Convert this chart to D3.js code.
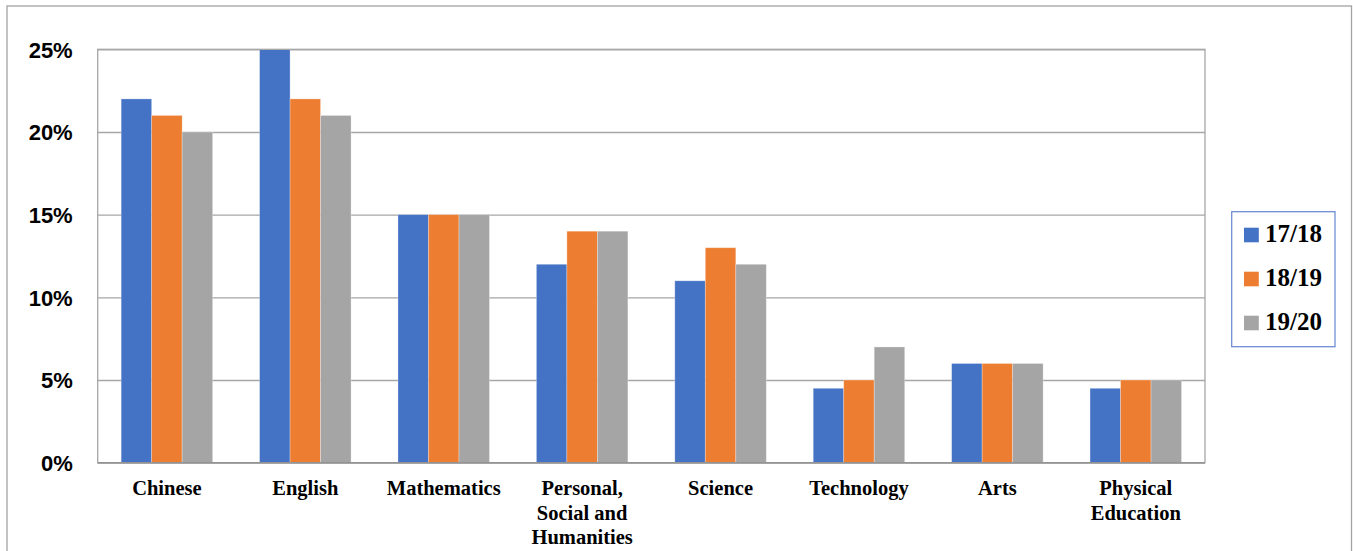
<!DOCTYPE html>
<html>
<head>
<meta charset="utf-8">
<script src="https://cdn.jsdelivr.net/npm/d3@7"></script>
<style>
  html, body { margin: 0; padding: 0; background: #fff; }
  svg { display: block; }
</style>
</head>
<body>
<svg id="chart" width="1353" height="551"></svg>
<script>
// Subjects along the x axis
const categories = ["Chinese", "English", "Mathematics", "Personal, Social and Humanities",
  "Science", "Technology", "Arts", "Physical Education"];
// Wrapped label lines for each subject
const categoryLines = [["Chinese"], ["English"], ["Mathematics"], ["Personal,", "Social and", "Humanities"],
  ["Science"], ["Technology"], ["Arts"], ["Physical", "Education"]];
// School years (series)
const seriesNames = ["17/18", "18/19", "19/20"];
const seriesColors = ["#4472C4", "#ED7D31", "#A5A5A5"];
// Share of lesson time, percent
const values1718 = [22, 25, 15, 12, 11, 4.5, 6, 4.5];
const values1819 = [21, 22, 15, 14, 13, 5, 6, 5];
const values1920 = [20, 21, 15, 14, 12, 7, 6, 5];
const yTicks = [0, 5, 10, 15, 20, 25];

const seriesValues = [values1718, values1819, values1920];

const svg = d3.select("#chart");
const plot = { left: 97.7, right: 1205, top: 49.3, bottom: 462.7 };

// Outer frame
svg.append("rect")
  .attr("x", 7).attr("y", 6).attr("width", 1344.5).attr("height", 560)
  .attr("fill", "none").attr("stroke", "#a3a3a3").attr("stroke-width", 1.3);

const x0 = d3.scaleBand().domain(categories).range([plot.left, plot.right])
  .paddingInner(0.339).paddingOuter(0.1695);
const x1 = d3.scaleBand().domain(seriesNames).range([0, x0.bandwidth()]);
const y = d3.scaleLinear().domain([0, 25]).range([plot.bottom, plot.top]);

// Gridlines
const yAxis = d3.axisLeft(y).tickValues(yTicks).tickSize(-(plot.right - plot.left))
  .tickFormat(d => d + "%").tickPadding(25);
const gy = svg.append("g").attr("transform", `translate(${plot.left},0)`).call(yAxis);
gy.select(".domain").remove();
gy.selectAll(".tick line").attr("stroke", "#a6a6a6").attr("stroke-width", 1.3);
gy.selectAll(".tick text")
  .attr("font-family", "'Liberation Sans', Arial, sans-serif")
  .attr("font-weight", "bold").attr("font-size", 22).attr("fill", "#000")
  .attr("dy", "0.35em");

// Bars
const groups = svg.append("g").selectAll("g")
  .data(categories).join("g")
  .attr("transform", d => `translate(${x0(d)},0)`);
groups.selectAll("rect")
  .data((d, i) => seriesNames.map((s, j) => ({ s, j, v: seriesValues[j][i] })))
  .join("rect")
  .attr("x", d => x1(d.s))
  .attr("width", x1.bandwidth())
  .attr("y", d => y(d.v))
  .attr("height", d => y(0) - y(d.v))
  .attr("fill", d => seriesColors[d.j])
  .attr("stroke", "#ffffff").attr("stroke-opacity", 0.35).attr("stroke-width", 0.8);

// Plot area border
svg.append("rect")
  .attr("x", plot.left).attr("y", plot.top)
  .attr("width", plot.right - plot.left).attr("height", plot.bottom - plot.top)
  .attr("fill", "none").attr("stroke", "#a6a6a6").attr("stroke-width", 1.3);
svg.append("line")
  .attr("x1", plot.left).attr("x2", plot.right)
  .attr("y1", plot.bottom).attr("y2", plot.bottom)
  .attr("stroke", "#949494").attr("stroke-width", 1.6);

// Category labels
const labels = svg.append("g").selectAll("text")
  .data(categories).join("text")
  .attr("x", d => x0(d) + x0.bandwidth() / 2)
  .attr("y", 495)
  .attr("text-anchor", "middle")
  .attr("font-family", "'Liberation Serif', 'Times New Roman', serif")
  .attr("font-weight", "bold").attr("font-size", 20.5).attr("fill", "#000");
labels.each(function(d, i) {
  const t = d3.select(this);
  categoryLines[i].forEach((line, k) => {
    t.append("tspan").attr("x", x0(d) + x0.bandwidth() / 2)
      .attr("dy", k === 0 ? 0 : 24.5).text(line);
  });
});

// Legend
const legend = svg.append("g");
legend.append("rect")
  .attr("x", 1231.7).attr("y", 211.7).attr("width", 103.3).attr("height", 135)
  .attr("fill", "#fff").attr("stroke", "#6f8fd3").attr("stroke-width", 1.3);
const items = legend.selectAll("g.item").data(seriesNames).join("g")
  .attr("class", "item")
  .attr("transform", (d, i) => `translate(1244, ${235 + i * 44})`);
items.append("rect")
  .attr("x", 0).attr("y", -7.3).attr("width", 14.8).attr("height", 14.6)
  .attr("fill", (d, i) => seriesColors[i]);
items.append("text")
  .attr("x", 21).attr("y", 7)
  .attr("font-family", "'Liberation Serif', 'Times New Roman', serif")
  .attr("font-weight", "bold").attr("font-size", 25).attr("fill", "#000")
  .text(d => d);
</script>
</body>
</html>
